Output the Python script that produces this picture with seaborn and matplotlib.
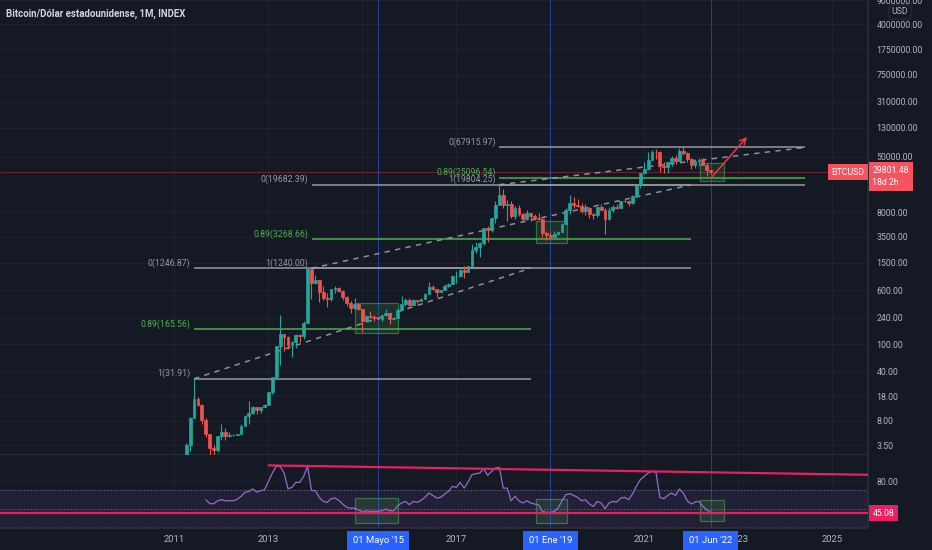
import numpy as np
import pandas as pd
import seaborn as sns
import matplotlib.pyplot as plt
import matplotlib.transforms as mtransforms
from matplotlib.patches import Rectangle
from matplotlib.ticker import NullLocator

BG = "#151924"
GRID = "#1d2130"
SEP = "#2a2e39"
TXT = "#b2b5be"
GREEN = "#26a69a"
RED = "#ef5350"
FIB_GRAY = "#9598a1"
FIB_GREEN = "#4caf50"
BLUE = "#2962ff"
PINK = "#e91e63"
RSI_COL = "#8f6fc9"
FS = 6.3

sns.set_theme(style="dark", rc={
    "axes.facecolor": BG, "figure.facecolor": BG,
    "axes.edgecolor": SEP, "grid.color": GRID,
    "text.color": TXT, "xtick.color": TXT, "ytick.color": TXT,
})
plt.rcParams["font.family"] = ["Roboto", "DejaVu Sans"]

# ---------------------------------------------------------------
# monthly candles BTCUSD, Apr 2011 .. Jun 2022
# ---------------------------------------------------------------
first_month = "2011-04"
first_open = 0.78
closes = [
    3.50, 8.74, 16.10, 13.35, 8.19, 5.14, 3.25, 2.97, 4.72,
    5.48, 4.86, 4.90, 4.95, 5.15, 6.69, 9.35, 10.15, 12.40, 11.20, 12.57, 13.51,
    20.41, 33.38, 93.03, 139.0, 128.8, 97.51, 106.2, 135.4, 133.0, 204.0, 1205.7, 754.0,
    829, 565, 458, 447, 628, 640, 586, 480, 388, 338, 378, 320,
    217, 254, 244, 236, 230, 263, 284, 230, 236, 314, 377, 430,
    369, 437, 416, 448, 531, 673, 624, 575, 609, 698, 742, 963,
    970, 1190, 1080, 1348, 2300, 2480, 2875, 4700, 4340, 6468, 10233, 14156,
    10221, 10326, 6926, 9240, 7495, 6391, 7730, 7025, 6626, 6318, 4017, 3742,
    3457, 3854, 4105, 5320, 8574, 10817, 10085, 9630, 8293, 9199, 7569, 7193,
    9350, 8523, 6410, 8624, 9454, 9137, 11351, 11655, 10779, 13805, 19700, 28990,
    33114, 45137, 58918, 57750, 37332, 35040, 41626, 47166, 43791, 61318, 57005, 46306,
    38483, 43194, 45539, 37644, 31792, 29801.48,
]
highs = [
    3.80, 8.90, 31.91, 17.50, 14.00, 8.60, 5.20, 3.50, 4.80,
    7.20, 6.20, 5.40, 5.20, 5.20, 7.20, 9.70, 15.40, 12.90, 12.50, 12.70, 13.80,
    20.50, 34.00, 95.70, 266.0, 140.0, 129.8, 111.0, 139.0, 142.0, 213.0, 1240.0, 1163.0,
    1000, 850, 700, 540, 630, 680, 660, 600, 490, 415, 460, 390,
    320, 265, 300, 261, 247, 268, 318, 285, 244, 332, 495, 466,
    462, 447, 440, 467, 549, 779, 704, 622, 612, 741, 754, 979,
    1150, 1210, 1350, 1350, 2760, 3000, 2920, 4770, 4980, 6470, 11400, 19804,
    17250, 11780, 11700, 9760, 9990, 7770, 8500, 7770, 7410, 7700, 6550, 4300,
    4070, 4200, 4300, 5640, 9090, 13880, 13150, 12330, 10950, 10370, 9510, 7750,
    9580, 10500, 9190, 9470, 10070, 10400, 11440, 12480, 12060, 14100, 19900, 29300,
    41950, 58350, 61780, 64850, 59600, 41330, 42330, 50500, 52920, 67000, 67915, 59100,
    47990, 45800, 48200, 47450, 40000, 31900,
]
lows = [
    0.56, 2.90, 8.70, 12.80, 7.10, 4.70, 2.20, 2.01, 2.80,
    4.20, 4.20, 4.70, 4.80, 4.90, 5.10, 6.60, 7.10, 9.90, 9.90, 10.40, 12.50,
    13.20, 19.50, 33.10, 50.00, 79.00, 87.00, 65.50, 88.00, 109.0, 119.0, 201.0, 455.0,
    740, 400, 440, 340, 420, 550, 560, 440, 350, 280, 315, 312,
    152, 213, 238, 215, 228, 220, 253, 198, 225, 236, 309, 350,
    354, 365, 393, 413, 443, 522, 600, 480, 590, 607, 678, 738,
    750, 915, 890, 1080, 1350, 2080, 1830, 2710, 2970, 4120, 5500, 10800,
    9000, 6000, 6580, 6430, 7050, 5790, 6070, 5880, 6100, 6200, 3450, 3122,
    3350, 3390, 3730, 4100, 5330, 7460, 9100, 9350, 7720, 7310, 6520, 6430,
    6850, 8450, 3850, 6150, 8110, 8900, 9000, 11120, 9880, 10370, 13200, 17580,
    28130, 32400, 45000, 47000, 30000, 28800, 29300, 37300, 39600, 43300, 53250, 42000,
    32950, 34320, 37150, 37400, 26700, 28600,
]
last_price = 29801.48

# monthly RSI(14), Sep 2011 .. Jun 2022
rsi_first_month = "2011-09"
rsi_vals = [
    59.8, 55.5, 55.5, 58.7,
    59.8, 58.7, 58.7, 58.7, 60.2, 63.5, 67.8, 68.9, 71.5, 68.2, 69.6, 70.7,
    79.8, 88.9, 96.2, 96.2, 88.9, 71.8, 73.3, 78.7, 78.7, 85.3, 96.2, 70.0,
    69.6, 62.4, 58.0, 56.9, 60.9, 61.6, 59.1, 55.1, 51.5, 50.7, 50.7, 48.9,
    46.4, 47.8, 47.1, 47.1, 47.1, 47.8, 49.6, 47.8, 47.8, 53.3, 56.2, 58.0,
    54.4, 58.0, 56.9, 59.1, 62.4, 67.1, 64.5, 61.6, 62.4, 66.0, 68.9, 74.4,
    73.3, 78.7, 72.5, 79.1, 87.1, 88.2, 88.9, 93.6, 86.4, 90.7, 94.4, 95.1,
    72.5, 72.5, 58.7, 63.5, 58.7, 56.2, 58.7, 56.2, 55.1, 54.4, 47.1, 46.0,
    46.0, 47.1, 50.7, 58.7, 65.3, 66.4, 64.5, 62.4, 58.7, 59.8, 55.1, 52.5,
    58.0, 56.2, 50.0, 56.2, 58.0, 57.3, 61.6, 62.4, 59.8, 66.0, 74.4, 81.6,
    85.3, 88.9, 90.7, 90.0, 62.4, 60.9, 64.5, 67.1, 64.5, 71.5, 67.1, 58.7,
    55.1, 57.3, 58.0, 52.5, 48.9, 46.5,
]
rsi_last = 45.08
rsi_trend_t = [2013.0, 2025.77]
rsi_trend_v = [97.3, 87.0]

# fibonacci retracements (start, end in years; levels 1 / 0.89 / 0)
fib_start = [2011.417, 2013.917, 2017.917]
fib_end = [2018.583, 2022.0, 2024.417]
fib_one = [31.91, 1240.00, 19804.25]
fib_089 = [165.56, 3268.66, 25096.54]
fib_zero = [1246.87, 19682.39, 67915.97]

# green zones
zone_t0 = [2014.84, 2018.69, 2022.19]
zone_t1 = [2015.76, 2019.35, 2022.70]
zone_price_lo = [146, 2900, 22600]
zone_price_hi = [393, 5940, 40200]
zone_rsi_lo = [34.5, 34.5, 36.6]
zone_rsi_hi = [61.7, 60.6, 59.5]

# marked dates
mark_t = [2015.333, 2019.0, 2022.417]
mark_labels = ["01 Mayo '15", "01 Ene '19", "01 Jun '22"]

arrow_from = (2022.44, 25500)
arrow_to = (2023.19, 96200)

price_ticks = [3.5, 8, 18, 40, 100, 240, 600, 1500, 3500, 8000, 50000,
               130000, 310000, 750000, 1750000, 4000000, 9000000]
year_ticks = [2011, 2013, 2015, 2017, 2019, 2021, 2023, 2025]
year_labels = ["2011", "2013", "", "2017", "", "2021", "2023", "2025"]

# ---------------------------------------------------------------
months = pd.period_range(first_month, periods=len(closes), freq="M")
df = pd.DataFrame({
    "t": months.year + (months.month - 1) / 12,
    "close": closes, "high": highs, "low": lows,
})
df["open"] = [first_open] + closes[:-1]
df["col"] = np.where(df["close"] >= df["open"], GREEN, RED)

rsi_months = pd.period_range(rsi_first_month, periods=len(rsi_vals), freq="M")
rsi_df = pd.DataFrame({"t": rsi_months.year + (rsi_months.month - 1) / 12,
                       "rsi": rsi_vals})

W, H = 932, 550
fig = plt.figure(figsize=(W / 100, H / 100), dpi=100)
ax = fig.add_axes([0, 1 - 455 / H, 868 / W, 455 / H])
ax2 = fig.add_axes([0, 1 - 528 / H, 868 / W, 73 / H], sharex=ax)

# ----- price panel
ax.set_yscale("log")
ax.set_xlim(2007.285, 2025.765)
ax.set_ylim(2.553, 8.99e6)

ax.axhline(last_price, color="#f23645", lw=0.6, alpha=0.45, zorder=1)

for t in mark_t:
    ax.axvline(t, color=BLUE, lw=0.7, alpha=0.55, zorder=1)
    ax2.axvline(t, color=BLUE, lw=0.7, alpha=0.55, zorder=1)

for i in range(3):
    for price, lv, col in [(fib_one[i], "1", FIB_GRAY),
                           (fib_089[i], "0.89", FIB_GREEN),
                           (fib_zero[i], "0", FIB_GRAY)]:
        ax.hlines(price, fib_start[i], fib_end[i], color=col, lw=1.1, zorder=2)
        ax.annotate(f"{lv}({price:.2f})", xy=(fib_start[i], price),
                    xytext=(-2.5, 0.3), textcoords="offset points",
                    ha="right", va="bottom", color=col, fontsize=FS)
    # trend line from the swing to the next level
    ax.plot([fib_start[i], fib_end[i]], [fib_one[i], fib_zero[i]],
            color="#a3a6af", lw=1.1, alpha=0.85, dashes=(3.5, 3.5), zorder=2)

for i in range(3):
    ax.add_patch(Rectangle((zone_t0[i], zone_price_lo[i]),
                           zone_t1[i] - zone_t0[i],
                           zone_price_hi[i] - zone_price_lo[i],
                           fc=(0.30, 0.69, 0.31, 0.16), ec=(0.30, 0.69, 0.31, 0.55),
                           lw=0.9, zorder=3))
    ax2.add_patch(Rectangle((zone_t0[i], zone_rsi_lo[i]),
                            zone_t1[i] - zone_t0[i],
                            zone_rsi_hi[i] - zone_rsi_lo[i],
                            fc=(0.30, 0.69, 0.31, 0.16), ec=(0.30, 0.69, 0.31, 0.55),
                            lw=0.9, zorder=3))

body_lo = np.minimum(df["open"], df["close"])
body_hi = np.maximum(df["open"], df["close"])
ax.vlines(df["t"], df["low"], df["high"], colors=df["col"], lw=0.8, zorder=4)
ax.bar(df["t"], body_hi - body_lo, bottom=body_lo, width=0.72 / 12,
       color=df["col"], edgecolor=df["col"], linewidth=0.5, zorder=4)

ax.annotate("", xy=arrow_to, xytext=arrow_from,
            arrowprops=dict(arrowstyle="->", color="#f23645", lw=1.1,
                            mutation_scale=11, shrinkA=0, shrinkB=0), zorder=5)

ax.yaxis.tick_right()
ax.set_yticks(price_ticks)
ax.set_yticklabels([f"{v:.2f}" for v in price_ticks])
ax.yaxis.set_minor_locator(NullLocator())
ax.tick_params(axis="y", length=0, pad=6, labelsize=FS, colors=TXT)
ax.tick_params(axis="x", length=0, labelbottom=False)
ax.grid(True, color=GRID, lw=0.8)

trans = mtransforms.blended_transform_factory(ax.transAxes, ax.transData)
ax.annotate("BTCUSD", xy=(1, last_price), xycoords=trans, xytext=(-2.5, 0),
            textcoords="offset points", ha="right", va="center", color="white",
            fontsize=FS, zorder=10, annotation_clip=False,
            bbox=dict(boxstyle="square,pad=0.4", fc="#f7525f", ec="none"))
ax.annotate(f"{last_price:.2f}\n18d 2h", xy=(1, last_price), xycoords=trans,
            xytext=(3.2, 4.3), textcoords="offset points", ha="left", va="top",
            color="white", fontsize=FS, linespacing=1.4, zorder=10,
            annotation_clip=False,
            bbox=dict(boxstyle="square,pad=0.45", fc="#f7525f", ec="none"))

# ----- RSI panel
ax2.set_ylim(29, 108.6)
ax2.axhspan(30, 70, color="#7e57c2", alpha=0.12, lw=0, zorder=0)
for lvl in (70, 50, 30):
    ax2.axhline(lvl, color="#787b86", lw=0.6, dashes=(2, 2), alpha=0.8, zorder=1)
sns.lineplot(data=rsi_df, x="t", y="rsi", ax=ax2, color=RSI_COL, lw=0.9, zorder=4)
ax2.axhline(rsi_last, color=PINK, lw=1.6, zorder=5)
ax2.plot(rsi_trend_t, rsi_trend_v, color=PINK, lw=1.6, zorder=5)

ax2.yaxis.tick_right()
ax2.set_yticks([80, 40])
ax2.set_yticklabels(["80.00", "40.00"])
ax2.yaxis.set_minor_locator(NullLocator())
ax2.tick_params(axis="y", length=0, pad=6, labelsize=FS, colors=TXT)
ax2.set_xticks(year_ticks)
ax2.set_xticklabels(year_labels)
ax2.tick_params(axis="x", length=0, pad=5, labelsize=6.8, colors=TXT)
ax2.set_xlabel("")
ax2.set_ylabel("")
ax2.grid(True, color=GRID, lw=0.8)

trans2 = mtransforms.blended_transform_factory(ax2.transAxes, ax2.transData)
ax2.annotate(f"{rsi_last:.2f}", xy=(1, rsi_last), xycoords=trans2, xytext=(3.2, 0),
             textcoords="offset points", ha="left", va="center", color="white",
             fontsize=FS, zorder=10, annotation_clip=False,
             bbox=dict(boxstyle="square,pad=0.4", fc=PINK, ec="none"))

trans3 = mtransforms.blended_transform_factory(ax2.transData, ax2.transAxes)
for t, lab in zip(mark_t, mark_labels):
    ax2.annotate(lab, xy=(t, 0), xycoords=trans3, xytext=(0, -9.2),
                 textcoords="offset points", ha="center", va="center",
                 color="white", fontsize=6.8, zorder=10, annotation_clip=False,
                 bbox=dict(boxstyle="square,pad=0.6", fc=BLUE, ec="none"))

for a in (ax, ax2):
    a.spines["top"].set_visible(False)
    a.spines["left"].set_visible(False)
    a.spines["right"].set_color(SEP)
    a.spines["bottom"].set_color(SEP)

fig.text(6 / W, 1 - 14 / H, "Bitcoin/Dólar estadounidense, 1M, INDEX",
         fontsize=6.9, color="#d1d4dc", fontweight="bold", va="center")
fig.text(900 / W, 1 - 12 / H, "USD", fontsize=FS, color=TXT, ha="center",
         va="center", bbox=dict(boxstyle="round,pad=0.3", fc=BG, ec=SEP, lw=0.8))

fig.savefig("out.png", dpi=100, facecolor=BG)
